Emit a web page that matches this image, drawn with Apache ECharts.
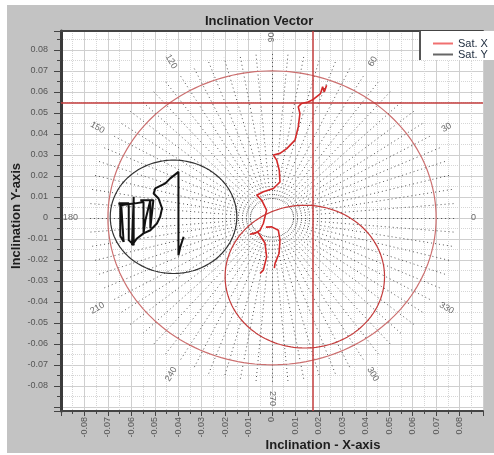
<!DOCTYPE html>
<html><head><meta charset="utf-8">
<script src="https://cdn.jsdelivr.net/npm/echarts@6/dist/echarts.min.js"></script>
<style>
html,body{margin:0;padding:0;background:#fff;}
#panel{position:absolute;left:7px;top:5px;width:487px;height:448px;background:#c3c3c3;}
#chart{position:absolute;left:0;top:0;width:494px;height:455px;}
</style></head><body><div id="panel"></div><div id="chart"></div>
<script>
// ---- data (inclination units) ----
const xRange = [-0.09, 0.09];
const yRange = [-0.092, 0.089];
const satX = [
  [0.0233,0.0632],[0.0223,0.0600],[0.0216,0.0624],[0.0207,0.0592],[0.0176,0.0564],
  [0.0154,0.0552],[0.0126,0.0545],[0.0112,0.0529],[0.0119,0.0497],[0.0112,0.0433],
  [0.0098,0.0370],[0.0063,0.0330],[0.0034,0.0307],[0.0006,0.0299],[0.0020,0.0275],
  [0.0031,0.0227],[0.0034,0.0171],[0.0006,0.0140],[-0.0037,0.0124],[-0.0065,0.0108],
  [-0.0044,0.0084],[-0.0023,0.0037],[-0.0037,-0.0027],[-0.0051,-0.0059],[-0.0072,-0.0074],
  [-0.0094,-0.0078],[-0.0060,-0.0068],[-0.0030,-0.0120],[-0.0023,-0.0186],[-0.0037,-0.0249],
  [-0.0051,-0.0265]
];
const satXBranch = [
  [-0.0026,-0.0044],[-0.0001,-0.0043],[0.0027,-0.0059],[0.0034,-0.0106],[0.0030,-0.0170],
  [0.0013,-0.0217],[0.0010,-0.0240]
];
const satY = [
  [-0.0377,-0.0090],[-0.0391,-0.0138],[-0.0399,-0.0178],[-0.0399,0.0219],[-0.0434,0.0188],
  [-0.0455,0.0164],[-0.0498,0.0140],[-0.0505,0.0116],[-0.0484,0.0092],[-0.0469,0.0045],
  [-0.0477,0.0005],[-0.0491,-0.0027],[-0.0519,-0.0059],[-0.0548,-0.0074],[-0.0576,-0.0098],
  [-0.0597,-0.0130],[-0.0590,0.0100],[-0.0590,-0.0130],[-0.0611,-0.0106],[-0.0611,0.0069],
  [-0.0654,0.0069],[-0.0643,0.0060],[-0.0633,-0.0114],[-0.0647,-0.0087],[-0.0647,0.0060],
  [-0.0583,0.0069],[-0.0548,0.0076],[-0.0548,-0.0074],[-0.0540,-0.0011],[-0.0519,0.0084],
  [-0.0519,-0.0050],[-0.0506,0.0084],[-0.0562,0.0084]
];
const bigCircle = [0, 0, 0.07];          // cx, cy, r
const smallCircle = [0.014, -0.028, 0.034];
const blackCircle = [-0.042, 0.0005, 0.027];
const crossX = 0.0175, crossY = 0.055;
const angleLabels = [0,30,60,90,120,150,180,210,240,270,300,330];
const radialStep = 5, radialInner = 0.009, radialOuter = 0.079, labelRadius = 0.086;

// ---- helpers ----
function circlePts(c){ const p=[]; for(let i=0;i<=180;i++){const a=i*2*Math.PI/180; p.push([c[0]+c[2]*Math.cos(a), c[1]+c[2]*Math.sin(a)]);} return p; }
function fmt(v){ const k=Math.round(v*100); if(Math.abs(v*100-k)>1e-6||Math.abs(k)>8) return ''; return k===0?'0':(k/100).toFixed(2); }
const radial=[]; for(let a=0;a<360;a+=radialStep){const t=a*Math.PI/180; radial.push({coords:[[radialInner*Math.cos(t),radialInner*Math.sin(t)],[radialOuter*Math.cos(t),radialOuter*Math.sin(t)]]});}
const angLab = angleLabels.map(a=>{const t=a*Math.PI/180; const rot=a<=90?a:(a<270?a-180:a-360);
  return {value:[labelRadius*Math.cos(t),labelRadius*Math.sin(t)],name:String(a),label:{rotate:rot}};});

const axisFont = {fontFamily:'Liberation Sans',fontSize:9,color:'#555'};
const chart = echarts.init(document.getElementById('chart'));
chart.setOption({
  animation:false,
  title:{text:'Inclination Vector',left:200,top:10,textStyle:{fontFamily:'Liberation Sans',fontWeight:'bold',fontSize:13,color:'#1e1e1e'}},
  grid:{left:61,top:31,width:422,height:380,show:true,backgroundColor:'#fff',borderWidth:0},
  legend:{orient:'vertical',left:428,top:33,z:100,icon:'rect',itemWidth:20,itemHeight:2,itemGap:0,
    textStyle:{fontFamily:'Liberation Sans',fontSize:11,color:'#1c2a3c'},
    data:[{name:'Sat. X',itemStyle:{color:'#f07070'}},
          {name:'Sat. Y',itemStyle:{color:'#666'}}]},
  graphic:[
    {type:'rect',shape:{x:420,y:31,width:80,height:29},style:{fill:'#fff'},z:50},
    {type:'line',shape:{x1:420,y1:31,x2:420,y2:60},style:{stroke:'#555',lineWidth:2},z:51},
    {type:'text',x:323,y:445,style:{text:'Inclination - X-axis',align:'center',verticalAlign:'middle',font:'bold 13px "Liberation Sans"',fill:'#1e1e1e'},z:60},
    {type:'text',x:16,y:216,rotation:Math.PI/2,style:{text:'Inclination Y-axis',align:'center',verticalAlign:'middle',font:'bold 13px "Liberation Sans"',fill:'#1e1e1e'},z:60}
  ],
  xAxis:[{type:'value',min:xRange[0],max:xRange[1],interval:0.01,
    axisLine:{onZero:false,lineStyle:{color:'#444',width:2}},
    axisTick:{length:5,lineStyle:{color:'#444'}},
    minorTick:{show:true,splitNumber:2,length:3,lineStyle:{color:'#444'}},
    axisLabel:Object.assign({rotate:90,margin:6,formatter:fmt},axisFont),
    splitLine:{show:true,lineStyle:{color:'#cfcfcf',width:1}},
    minorSplitLine:{show:true,lineStyle:{color:'#d6d6d6',width:1,type:'dotted'}}},
   {type:'value',position:'top',min:xRange[0],max:xRange[1],interval:0.01,
    axisLine:{show:true,onZero:false,lineStyle:{color:'#444',width:2}},
    axisTick:{show:false},axisLabel:{show:false},splitLine:{show:false}}],
  yAxis:{type:'value',min:yRange[0],max:yRange[1],minInterval:0.01,maxInterval:0.01,
    axisLine:{show:true,onZero:false,lineStyle:{color:'#3a3a3a',width:3}},
    axisTick:{show:true,length:7,lineStyle:{color:'#444'}},
    minorTick:{show:true,splitNumber:2,length:4,lineStyle:{color:'#444'}},
    axisLabel:Object.assign({margin:13,formatter:fmt},axisFont),
    splitLine:{show:true,lineStyle:{color:'#cfcfcf',width:1}},
    minorSplitLine:{show:true,lineStyle:{color:'#d6d6d6',width:1,type:'dotted'}}},
  series:[
    {type:'lines',coordinateSystem:'cartesian2d',silent:true,z:1,data:radial,
      lineStyle:{color:'#2a2a2a',width:1,type:[1,3],opacity:0.8}},
    {type:'scatter',silent:true,z:2,symbolSize:1,itemStyle:{color:'transparent'},data:angLab,
      label:{show:true,position:'inside',formatter:p=>p.name,fontFamily:'Liberation Sans',fontSize:9,color:'#444'}},
    {type:'line',silent:true,symbol:'none',z:3,data:circlePts(bigCircle),lineStyle:{color:'#cc7070',width:1.2}},
    {type:'line',silent:true,symbol:'none',z:3,data:circlePts(smallCircle),lineStyle:{color:'#c43c3c',width:1.2}},
    {type:'line',silent:true,symbol:'none',z:3,data:circlePts(blackCircle),lineStyle:{color:'#333',width:1.2},
      markLine:{silent:true,symbol:'none',precision:5,label:{show:false},lineStyle:{color:'#c23b3b',width:1.5,type:'solid'},
        data:[{xAxis:crossX},{yAxis:crossY}]}},
    {name:'Sat. X',type:'line',symbol:'none',z:5,data:satX,lineStyle:{color:'#d22a2a',width:1.6},itemStyle:{color:'#d22a2a'}},
    {name:'Sat. X',type:'line',symbol:'none',z:5,data:satXBranch,lineStyle:{color:'#d22a2a',width:1.6},itemStyle:{color:'#d22a2a'}},
    {name:'Sat. Y',type:'line',symbol:'none',z:5,data:satY,lineStyle:{color:'#111',width:2},itemStyle:{color:'#111'}}
  ]
});
</script></body></html>
